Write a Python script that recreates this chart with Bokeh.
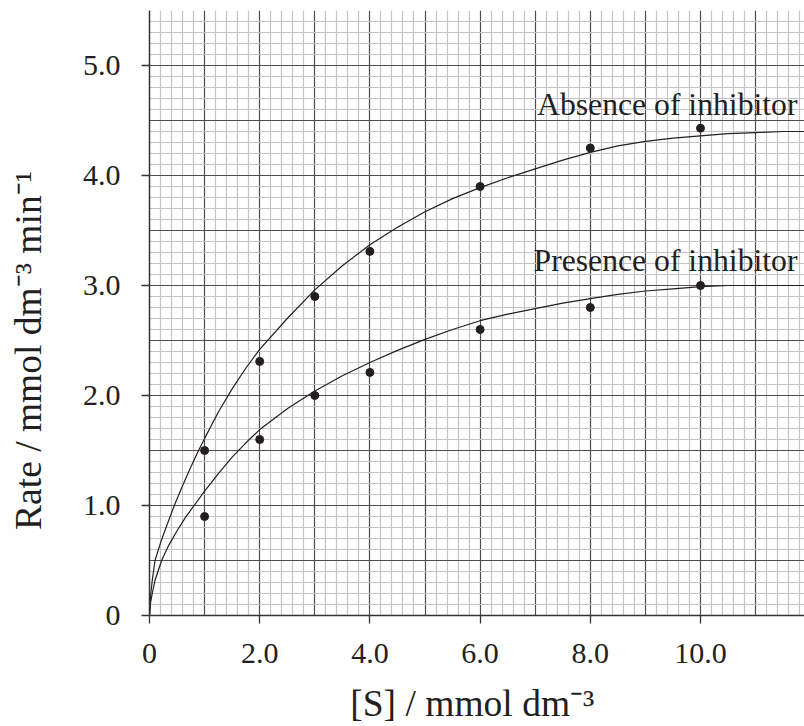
from bokeh.plotting import figure
from bokeh.models import FixedTicker, Range1d, Label
from bokeh.embed import file_html
from bokeh.resources import INLINE

# ---------------- data ----------------
substrate = [1, 2, 3, 4, 6, 8, 10]
rate_absence = [1.5, 2.31, 2.9, 3.31, 3.9, 4.25, 4.43]
rate_presence = [0.9, 1.6, 2.0, 2.21, 2.6, 2.8, 3.0]

curve_absence_x = [0, 0.02, 0.05, 0.1, 0.2, 0.3, 0.45, 0.6, 0.75, 0.89, 1.0, 1.25, 1.5,
                   1.75, 2.0, 2.5, 3.0, 3.5, 4.0, 4.5, 5.0, 5.5, 6.0, 6.5, 7.0, 7.5, 8.0,
                   8.5, 9.0, 9.5, 10.0, 10.5, 11.0, 11.5, 12.0]
curve_absence_y = [0, 0.18, 0.32, 0.5, 0.66, 0.8, 1.0, 1.18, 1.35, 1.5, 1.61, 1.85, 2.06,
                   2.25, 2.42, 2.70, 2.96, 3.18, 3.37, 3.53, 3.67, 3.79, 3.89, 3.98, 4.06,
                   4.14, 4.21, 4.27, 4.31, 4.34, 4.36, 4.38, 4.39, 4.40, 4.40]

curve_presence_x = [0, 0.02, 0.05, 0.1, 0.22, 0.35, 0.5, 0.65, 0.81, 1.0, 1.25, 1.5, 1.75,
                    2.0, 2.5, 3.0, 3.5, 4.0, 4.5, 5.0, 5.5, 6.0, 6.5, 7.0, 7.5, 8.0, 8.5,
                    9.0, 9.5, 10.0, 10.5, 11.0, 12.0]
curve_presence_y = [0, 0.12, 0.2, 0.32, 0.5, 0.64, 0.77, 0.89, 1.0, 1.13, 1.29, 1.44, 1.57,
                    1.69, 1.88, 2.04, 2.18, 2.30, 2.41, 2.51, 2.60, 2.68, 2.74, 2.79, 2.84,
                    2.88, 2.92, 2.95, 2.97, 2.99, 3.0, 3.0, 3.0]

x_tick_values = [0, 2, 4, 6, 8, 10]
x_tick_labels = ["0", "2.0", "4.0", "6.0", "8.0", "10.0"]
y_tick_values = [0, 1, 2, 3, 4, 5]
y_tick_labels = ["0", "1.0", "2.0", "3.0", "4.0", "5.0"]

label_absence = "Absence of inhibitor"
label_presence = "Presence of inhibitor"
x_title = "[S] / mmol dm\u207b\u00b3"
y_title = "Rate / mmol dm\u207b\u00b3 min\u207b\u00b9"

# ---------------- layout ----------------
W, H = 804, 726
LEFT, TOP, BOTTOM, RIGHT = 149, 10, 110, 0
PX_PER_X = 55.1
XMAX = (W - LEFT - RIGHT) / PX_PER_X
YMAX = 5.5
FRAME_H = H - TOP - BOTTOM
PX_PER_Y = FRAME_H / YMAX

def dx(cx):  # canvas x -> data x
    return (cx - LEFT) / PX_PER_X

def dy(cy):  # canvas y -> data y
    return (H - BOTTOM - cy) / PX_PER_Y

INK = "#231f20"
FONT = "Liberation Serif"
NBSP = "\u00a0"

p = figure(width=W, height=H, x_range=Range1d(0, XMAX), y_range=Range1d(0, YMAX),
           output_backend="svg", toolbar_location=None,
           min_border_left=LEFT, min_border_right=RIGHT,
           min_border_top=TOP, min_border_bottom=BOTTOM)
p.outline_line_color = None
p.background_fill_color = "white"
p.border_fill_color = "white"

# graph-paper grid
p.xgrid.ticker = FixedTicker(ticks=list(range(0, 13)),
                             minor_ticks=[round(i * 0.2, 3) for i in range(0, 61) if i % 5])
p.ygrid.ticker = FixedTicker(ticks=[i * 0.5 for i in range(0, 12)],
                             minor_ticks=[round(i * 0.1, 3) for i in range(0, 56) if i % 5])
for g in (p.xgrid, p.ygrid):
    g.grid_line_color = "#4d4d4d"
    g.grid_line_width = 1.2
    g.minor_grid_line_color = "#c4c4c8"
    g.minor_grid_line_width = 1.2
    g.level = "underlay"

# axes
p.xaxis.ticker = FixedTicker(ticks=x_tick_values)
p.xaxis.major_label_overrides = dict(zip(x_tick_values, x_tick_labels))
p.yaxis.ticker = FixedTicker(ticks=y_tick_values)
p.yaxis.major_label_overrides = dict(zip(y_tick_values, y_tick_labels))
for ax in (p.xaxis, p.yaxis):
    ax.axis_line_color = "#333333"
    ax.axis_line_width = 1.5
    ax.major_tick_line_color = "#333333"
    ax.major_tick_line_width = 1.3
    ax.major_tick_out = 8
    ax.major_tick_in = 0
    ax.minor_tick_out = 0
    ax.minor_tick_in = 0
    ax.major_label_text_font = FONT
    ax.major_label_text_font_size = "30px"
    ax.major_label_text_color = INK
    ax.axis_label_text_font = FONT
    ax.axis_label_text_font_size = "37.5px"
    ax.axis_label_text_font_style = "normal"
    ax.axis_label_text_color = INK
p.xaxis.major_label_standoff = 20
p.yaxis.major_label_standoff = 21
p.xaxis.axis_label = x_title + NBSP          # nudges the centred title a little left
p.yaxis.axis_label = y_title + NBSP * 8      # nudges the centred title downwards
p.xaxis.axis_label_standoff = 17
p.yaxis.axis_label_standoff = 31

# curves and points
p.line(curve_absence_x, curve_absence_y, line_color=INK, line_width=1.2)
p.line(curve_presence_x, curve_presence_y, line_color=INK, line_width=1.2)
p.scatter(substrate, rate_absence, size=8, color=INK)
p.scatter(substrate, rate_presence, size=8, color=INK)

# curve labels
for txt, base in ((label_absence, 104.0), (label_presence, 260.5)):
    p.add_layout(Label(x=dx(797), y=dy(base), text=txt, text_font=FONT,
                       text_font_size="31.7px", text_color=INK,
                       text_align="right", text_baseline="alphabetic"))

open("out.html", "w").write(file_html(p, INLINE))
